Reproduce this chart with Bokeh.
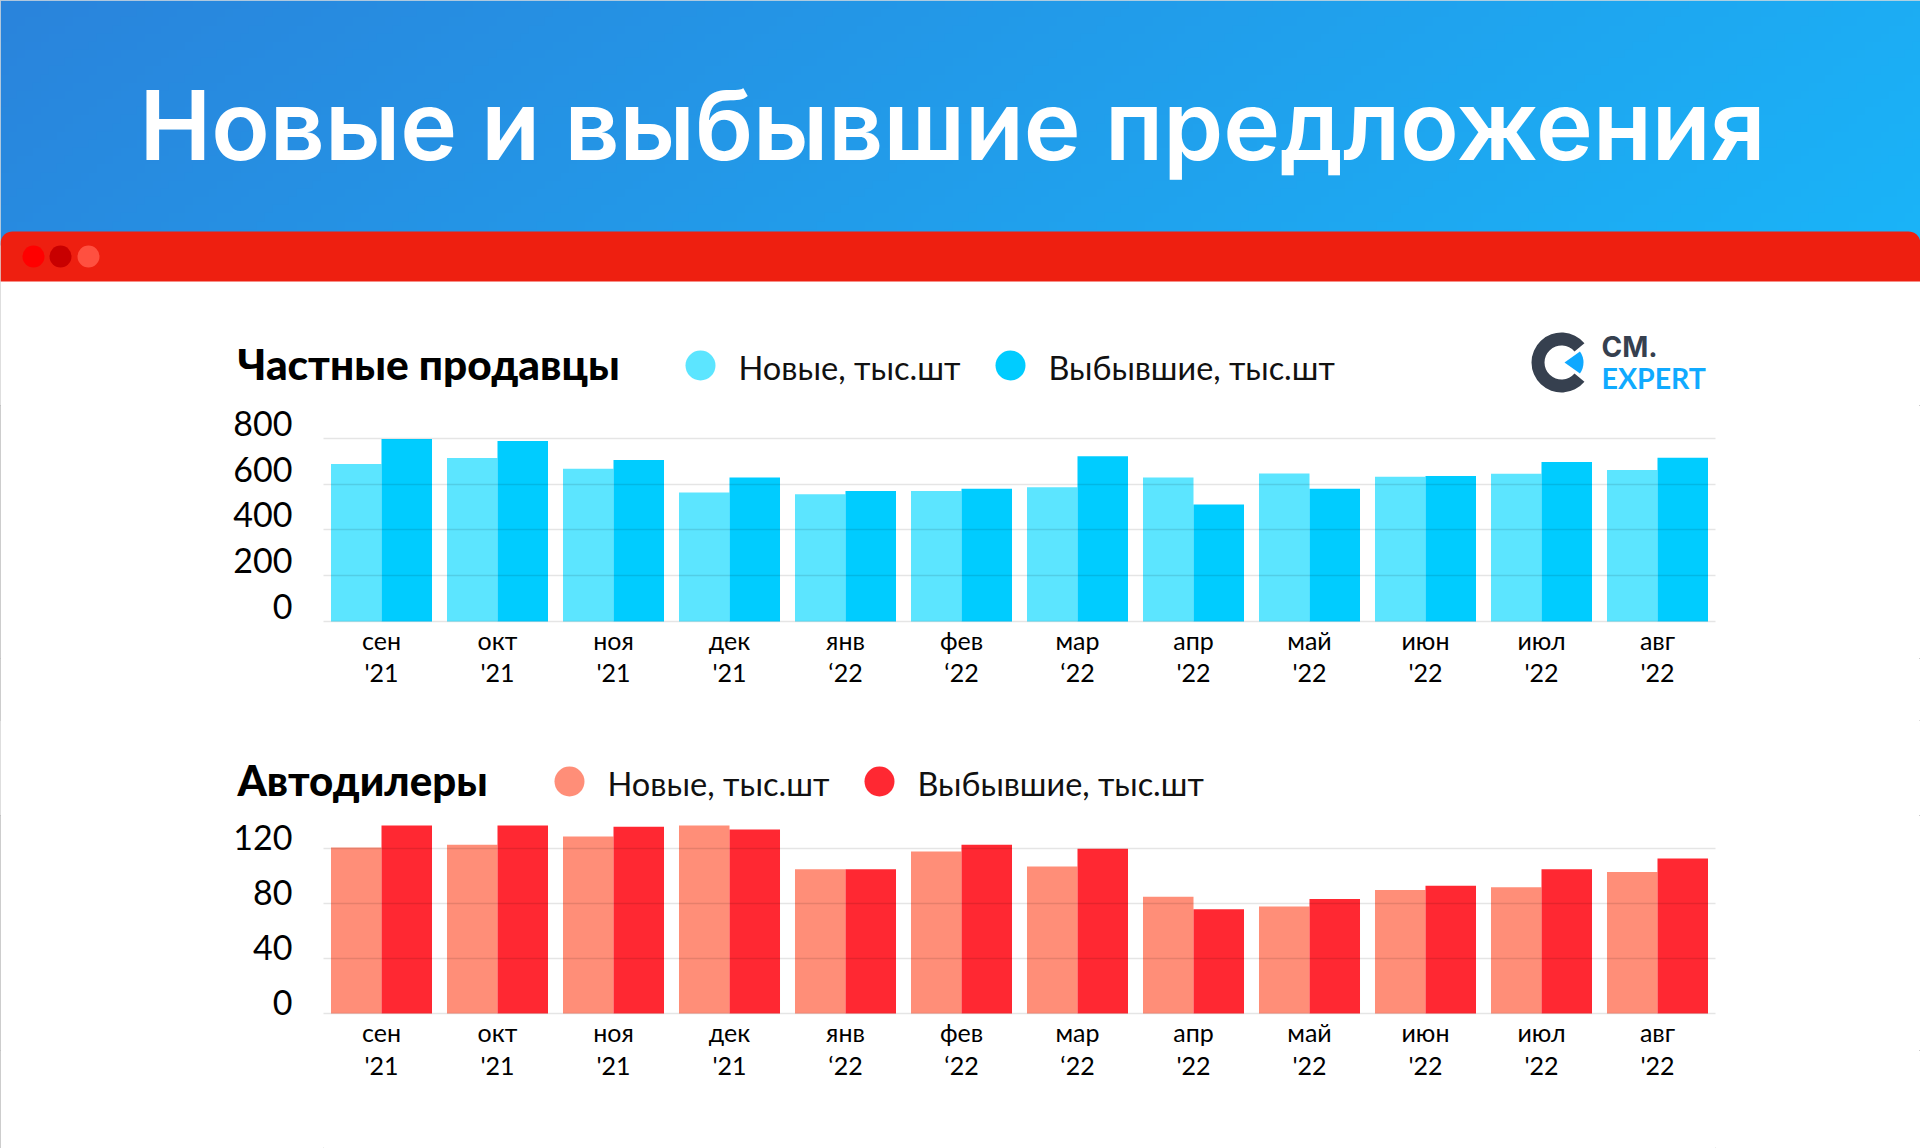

import numpy as np
from bokeh.embed import file_html
from bokeh.resources import INLINE
from bokeh.plotting import figure
from bokeh.layouts import column
from bokeh.models import FactorRange, Range1d, LinearAxis, FixedTicker, ColumnDataSource
from bokeh.core.properties import value
from bokeh.transform import dodge

# ---- data ----
months = ["сен", "окт", "ноя", "дек", "янв", "фев", "мар", "апр", "май", "июн", "июл", "авг"]
years = ["'21", "'21", "'21", "'21", "‘22", "‘22", "‘22", "'22", "'22", "'22", "'22", "'22"]
private_new = [688, 714, 667, 564, 556, 570, 586, 629, 647, 632, 645, 662]
private_gone = [797, 789, 706, 629, 570, 580, 722, 511, 580, 636, 697, 715]
dealer_new = [121, 123, 129, 137, 105, 118, 107, 85, 78, 90, 92, 103]
dealer_gone = [137, 137, 136, 134, 105, 123, 120, 76, 83.5, 93, 105, 113]
private_ticks = [0, 200, 400, 600, 800]
dealer_ticks = [0, 40, 80, 120]
page_title = "Новые и выбывшие предложения"
private_title = "Частные продавцы"
dealer_title = "Автодилеры"
legend_new = "Новые, тыс.шт"
legend_gone = "Выбывшие, тыс.шт"

FONT = "Lato"
W = 1920
BORDER_L, BORDER_R = 323, 205


def page_strip(top, bottom):
    """A strip whose data coordinates are the page's pixels."""
    f = figure(width=W, height=bottom - top, x_range=Range1d(0, W), y_range=Range1d(bottom, top),
               toolbar_location=None, output_backend="svg", min_border=0, frame_align=False)
    f.axis.visible = False
    f.grid.visible = False
    f.outline_line_color = None
    return f


def txt(f, x, y, s, size, color="#000000", style="normal", font=FONT, align="left"):
    # y is the wanted baseline of the text
    f.text(x=[x], y=[y - 0.4 * size], text=[s], text_font=value(font), text_font_size=f"{size}px", text_color=color,
           text_font_style=style, text_baseline="alphabetic", text_align=align)


def chart(new, gone, ticks, top_val, px_per_unit, label_shift, height, b_top, c_new, c_gone):
    f = figure(width=W, height=height, x_range=FactorRange(factors=months, range_padding=0),
               y_range=Range1d(-1.0 / px_per_unit, top_val), toolbar_location=None, output_backend="svg",
               min_border_left=BORDER_L, min_border_right=BORDER_R, min_border_top=b_top, min_border_bottom=36,
               frame_align=False)
    src = ColumnDataSource(dict(x=months, new=new, gone=gone))
    f.vbar(x=dodge("x", -0.2177, range=f.x_range), top="new", width=0.4354, color=c_new, source=src, line_color=None)
    f.vbar(x=dodge("x", 0.2177, range=f.x_range), top="gone", width=0.4354, color=c_gone, source=src, line_color=None)
    f.outline_line_color = None
    f.yaxis.visible = False
    f.xgrid.visible = False
    f.xaxis.axis_line_color = None
    f.xaxis.major_tick_line_color = None
    f.xaxis.minor_tick_line_color = None
    f.xaxis.major_label_standoff = -4
    f.xaxis.major_label_text_font = FONT
    f.xaxis.major_label_text_font_size = "25px"
    f.xaxis.major_label_text_color = "#000000"
    f.ygrid.ticker = FixedTicker(ticks=ticks)
    f.ygrid.grid_line_color = "#000000"
    f.ygrid.grid_line_alpha = 0.1
    f.ygrid.grid_line_width = 1.5
    f.ygrid.level = "overlay"
    shift = label_shift / px_per_unit
    f.extra_y_ranges = {"labels": Range1d(-1.0 / px_per_unit - shift, top_val - shift)}
    ya = LinearAxis(y_range_name="labels", ticker=FixedTicker(ticks=ticks), axis_line_color=None,
                    major_tick_line_color=None, minor_tick_line_color=None, major_label_standoff=25,
                    major_label_text_font=FONT, major_label_text_font_size="34px", major_label_text_color="#000000")
    f.add_layout(ya, "left")
    return f


def year_row(chart_fig, top, bottom, y):
    f = figure(width=W, height=bottom - top, x_range=chart_fig.x_range, y_range=Range1d(bottom, top),
               toolbar_location=None, output_backend="svg", min_border_left=BORDER_L, min_border_right=BORDER_R,
               min_border_top=0, min_border_bottom=0, frame_align=False)
    f.axis.visible = False
    f.grid.visible = False
    f.outline_line_color = None
    f.text(x=months, y=[y] * len(months), text=years, text_font=value(FONT), text_font_size="25px",
           text_color="#000000", text_align="center", text_baseline="middle")
    return f


def legend_row(f, y, x1, x2, c1, c2):
    f.scatter(x=[x1, x2], y=[y, y], size=30, color=[c1, c2], line_color=None)
    txt(f, x1 + 38, y + 15, legend_new, 32.6, "#111111")
    txt(f, x2 + 38, y + 15, legend_gone, 32.4, "#111111")


# ---- header ----
A = page_strip(0, 405)
t = np.linspace(0, 1, 240)
grid_x, grid_y = np.meshgrid(t, np.linspace(0, 1, 30))
g = grid_x * 0.85 + grid_y * 0.15
img = np.zeros((30, 240), dtype=np.uint32)
view = img.view(dtype=np.uint8).reshape((30, 240, 4))
view[..., 0] = (0x2A + (0x1A - 0x2A) * g).astype(np.uint8)
view[..., 1] = (0x84 + (0xB4 - 0x84) * g).astype(np.uint8)
view[..., 2] = (0xDC + (0xF8 - 0xDC) * g).astype(np.uint8)
view[..., 3] = 255
A.image_rgba(image=[img], x=0, y=0, dw=W, dh=245)
rr = 12
ang = np.linspace(np.pi, 1.5 * np.pi, 10)
ang2 = np.linspace(1.5 * np.pi, 2 * np.pi, 10)
bx = list(rr + rr * np.cos(ang)) + list(W - rr + rr * np.cos(ang2)) + [W, 0]
by = list(231 + rr + rr * np.sin(ang)) + list(231 + rr + rr * np.sin(ang2)) + [281, 281]
A.patch(bx, by, color="#EE1F10", line_color=None)
A.scatter(x=[33, 60, 88], y=[256, 256, 256], size=22, color=["#FF0000", "#C80000", "#FF5040"], line_color=None)
txt(A, 139, 163, page_title, 96.2, "#FFFFFF", "normal", "Inter SemiBold")
txt(A, 237, 380, private_title, 42.4, "#000000", "normal", "Lato Black")
legend_row(A, 365, 700, 1010, "#5CE5FF", "#00CCFF")
# logo
A.annular_wedge(x=[1561], y=[362], inner_radius=17, outer_radius=30, start_angle=0.7, end_angle=2 * np.pi - 0.7,
                color="#36404F", line_color=None)
A.wedge(x=[1564], y=[362], radius=19, start_angle=-0.62, end_angle=0.62, color="#0FA8FF", line_color=None)
txt(A, 1601, 358, "CM.", 28, "#36404F", "bold", "Inter")
txt(A, 1601, 389, "EXPERT", 28.5, "#10AAFF", "bold")

# ---- charts ----
B = chart(private_new, private_gone, private_ticks, 900, 0.2288, 15, 253, 10, "#5CE5FF", "#00CCFF")
B_years = year_row(B, 658, 720, 671)
C = page_strip(720, 815)
txt(C, 237, 796, dealer_title, 42, "#000000", "normal", "Lato Black")
legend_row(C, 781, 569, 879, "#FF8E78", "#FF2832")
D = chart(dealer_new, dealer_gone, dealer_ticks, 140.6, 1.38, 11, 235, 5, "#FF8E78", "#FF2832")
D_years = year_row(D, 1050, 1148, 1064)

page = column(A, B, B_years, C, D, D_years, spacing=0,
              styles={"outline": "1px solid #BDBDBD", "outline-offset": "-1px"})
open("out.html", "w").write(file_html(page, INLINE))
